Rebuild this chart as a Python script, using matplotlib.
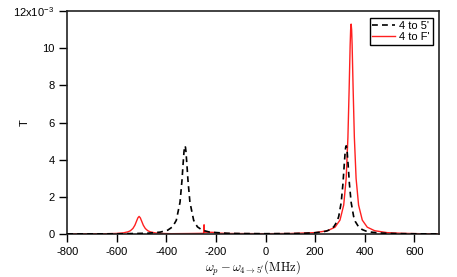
import matplotlib
matplotlib.use("Agg")
import matplotlib.pyplot as plt

plt.rcParams['font.family'] = ['Liberation Sans', 'DejaVu Sans']
plt.rcParams['mathtext.fontset'] = 'cm'

# Data (T in units of 1e-3)
x_black = [-800, -700, -600, -525, -475, -425, -395, -375, -360, -345, -337, -333, -329, -327,
           -325, -323, -321, -317, -313, -305, -290, -275, -255, -225, -155, -105, 0, 105, 155,
           195, 225, 245, 260, 275, 288, 295, 305, 312, 317, 321, 323, 325, 327, 329, 333, 338,
           345, 355, 362, 375, 390, 405, 425, 455, 495, 550, 625, 700]
y_black = [0.01, 0.01, 0.015, 0.03, 0.047, 0.104, 0.207, 0.39, 0.74, 1.71, 2.90, 3.70, 4.43, 4.67,
           4.75, 4.67, 4.43, 3.70, 2.90, 1.71, 0.74, 0.39, 0.207, 0.104, 0.042, 0.028, 0.02, 0.028, 0.042,
           0.068, 0.11, 0.16, 0.24, 0.39, 0.67, 0.95, 1.71, 2.71, 3.70, 4.43, 4.67, 4.75, 4.67, 4.43, 3.70, 2.71,
           1.71, 0.95, 0.67, 0.39, 0.24, 0.16, 0.105, 0.063, 0.037, 0.022, 0.012, 0.008]

x_red = [-800, -700, -640, -600, -575, -555, -545, -535, -527, -520, -515, -510, -505, -500, -493,
         -485, -475, -465, -445, -420, -380, -300, -250, -248, -247, -230, -210, -190, -150, 0, 100,
         200, 250, 280, 300, 315, 325, 332, 337, 341, 343, 345, 347, 349, 353, 358, 365, 375, 390,
         410, 440, 490, 550, 620, 700]
y_red = [0.01, 0.02, 0.02, 0.033, 0.06, 0.12, 0.18, 0.30, 0.475, 0.705, 0.87, 0.95, 0.87, 0.705, 0.475,
         0.30, 0.18, 0.12, 0.06, 0.033, 0.02, 0.03, 0.04, 0.5, 0.1, 0.1, 0.09, 0.05, 0.03, 0.02, 0.03,
         0.077, 0.18, 0.37, 0.75, 1.56, 2.99, 5.2, 7.83, 10.17, 11.0, 11.3, 11.0, 10.17, 7.83, 5.2, 2.99, 1.56, 0.75,
         0.37, 0.18, 0.077, 0.039, 0.02, 0.013]

x_ticks = [-800, -600, -400, -200, 0, 200, 400, 600]
y_ticks = [0, 2, 4, 6, 8, 10, 12]
y_tick_labels = ['0', '2', '4', '6', '8', '10', r'12x10$^{\mathregular{-3}}$']

fig = plt.figure(figsize=(4.57, 2.77), dpi=100)
ax = fig.add_axes([0.147, 0.155, 0.814, 0.805])

l2, = ax.plot(x_red, y_red, color='#ff2020', lw=1.0, label="4 to F'", zorder=2)
l1, = ax.plot(x_black, y_black, color='black', lw=1.2, ls=(0, (3.5, 2.5)), label="4 to 5'", zorder=3)

ax.set_xlim(-800, 700)
ax.set_ylim(0, 12)
ax.set_xticks(x_ticks)
ax.set_xticklabels([str(v) for v in x_ticks])
ax.set_yticks(y_ticks)
ax.set_yticklabels(y_tick_labels)
ax.tick_params(direction='out', length=6, width=1, labelsize=8, pad=3,
               top=False, right=False, colors='black')
for s in ax.spines.values():
    s.set_linewidth(1.2)
    s.set_color('#222222')

ax.set_ylabel('T', fontsize=8, rotation=90)
ax.yaxis.set_label_coords(-0.10, 0.5)
ax.set_xlabel(r'$\omega_p - \omega_{4\rightarrow 5^\prime}(\mathrm{MHz})$', fontsize=9)
ax.xaxis.set_label_coords(0.5, -0.112)

leg = ax.legend(handles=[l1, l2], loc='upper right', fontsize=8, frameon=True, fancybox=False,
                edgecolor='black', framealpha=1, handlelength=2.0, handletextpad=0.4,
                borderpad=0.25, labelspacing=0.15, borderaxespad=0.6)
leg.get_frame().set_linewidth(1.0)

fig.savefig('out.png', dpi=100)
